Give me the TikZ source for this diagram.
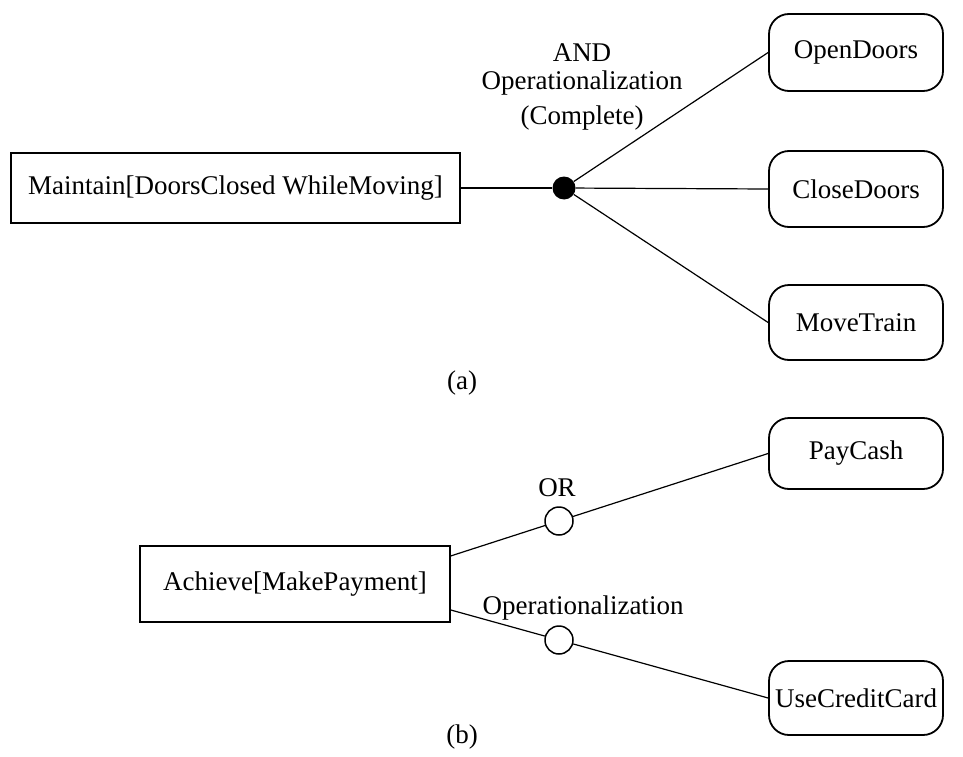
\documentclass[tikz,border=0pt]{standalone}
\usepackage{fontspec}
\setmainfont{Liberation Serif}
\usetikzlibrary{calc}
\begin{document}
\begin{tikzpicture}[x=1pt,y=-1pt,
  every node/.style={font=\fontsize{27}{32}\selectfont, inner sep=0pt},
  goal/.style={draw, line width=1.8pt, minimum width=#1, minimum height=74pt},
  opbox/.style={draw, line width=1.8pt, rounded corners=20pt, minimum width=174pt, minimum height=#1},
  conn/.style={line width=1.2pt},
  anddot/.style={circle, fill=black, minimum size=23pt},
  ordot/.style={circle, draw, line width=1.5pt, fill=white, minimum size=28pt}]
\useasboundingbox (0,0) rectangle (963,757);
% (a)
\node[goal=449pt, minimum height=70pt] (main) at (235.5,188) {Maintain[DoorsClosed WhileMoving]};
\node[anddot] (dot) at (564,188) {};
\node[opbox=77pt] (open) at (856,52.5) {OpenDoors};
\node[opbox=76pt] (close) at (856,189) {CloseDoors};
\node[opbox=75pt] (move) at (856,322.5) {MoveTrain};
\node[align=center] (andlbl) at (582,87) {AND\\[-4pt]Operationalization\\[3pt](Complete)};
\node (alabel) at (462,383) {(a)};
\draw[conn] (main.east) -- (dot);
\draw[conn] (dot) -- (open.west);
\draw[conn] (dot) -- (close.west);
\draw[conn] (dot) -- (move.west);
% (b)
\node[goal=310pt, minimum height=76pt] (achieve) at (295,584) {Achieve[MakePayment]};
\node[opbox=71pt] (pay) at (856,453.5) {PayCash};
\node[opbox=74pt] (card) at (856,698) {UseCreditCard};
\node[ordot] (orc) at (559,521) {};
\node[ordot] (opc) at (559,640) {};
\node (orlbl) at (557,488) {OR};
\node (oplbl) at (583,608) {Operationalization};
\node (blabel) at (462,737) {(b)};
\coordinate (a1) at ($(pay.west)!1.524!(orc)$);
\coordinate (a2) at ($(card.west)!1.524!(opc)$);
\draw[conn] (a1) -- (orc);
\draw[conn] (orc) -- (pay.west);
\draw[conn] (a2) -- (opc);
\draw[conn] (opc) -- (card.west);
\end{tikzpicture}
\end{document}
